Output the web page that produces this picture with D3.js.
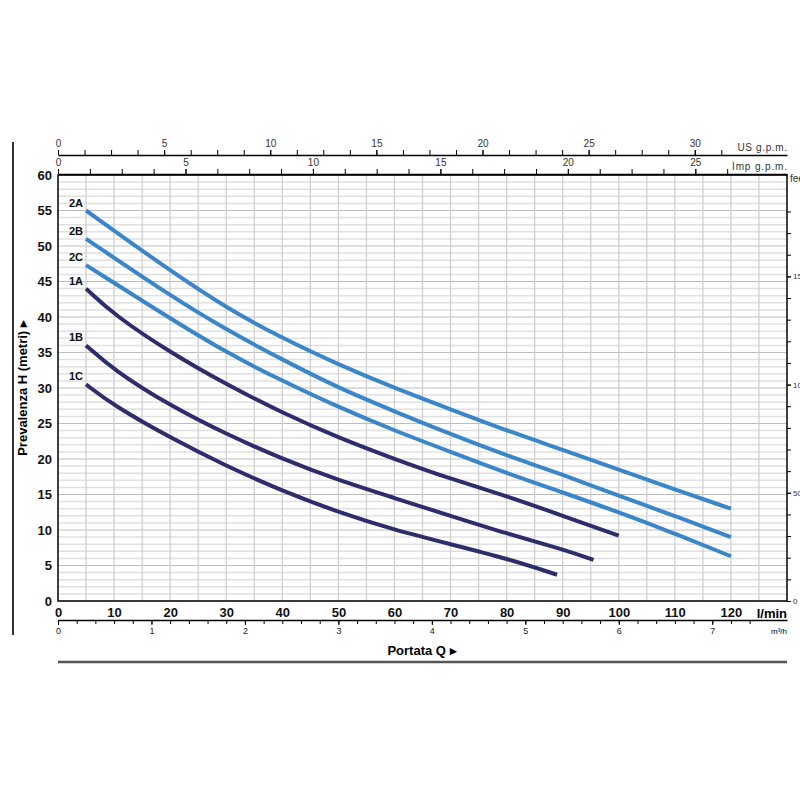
<!DOCTYPE html>
<html><head><meta charset="utf-8">
<script src="https://cdn.jsdelivr.net/npm/d3@7"></script>
<style>body{margin:0;background:#fff}text{font-family:"Liberation Sans Narrow","Liberation Sans",Arial,sans-serif}</style>
</head><body>
<svg id="c" width="800" height="800"></svg>
<script>
// flow in l/min, head in m
var names = ["2A","2B","2C","1A","1B","1C"];
var colors = ["#3a86c8","#3a86c8","#3a86c8","#2d2d6b","#2d2d6b","#2d2d6b"];
var q2 = [5,20,30,40,50,60,70,80,90,100,110,120];
var h2A = [55,46.5,41.3,37,33.3,30,27,24,21.3,18.5,15.7,13];
var h2B = [51,43,38.2,34,30,26.7,23.5,20.5,17.8,14.8,12,9];
var h2C = [47.3,39.8,35,31,27.3,24,21,18,15.3,12.5,9.5,6.3];
var q1A = [5,10,20,30,40,50,60,70,80,90,100];
var h1A = [44,40.3,35,30.5,26.5,23,20,17.2,14.8,12,9.2];
var q1B = [5,10,20,30,40,50,60,70,80,90,95.5];
var h1B = [36,32.5,27.5,23.5,20,17,14.5,12,9.5,7.3,5.8];
var q1C = [5,10,20,30,40,50,60,70,80,89];
var h1C = [30.5,27.5,23,19,15.5,12.5,10,8,6,3.7];
var xTicks = [0,10,20,30,40,50,60,70,80,90,100,110,120];
var yTicks = [0,5,10,15,20,25,30,35,40,45,50,55,60];

var series = [[q2,h2A],[q2,h2B],[q2,h2C],[q1A,h1A],[q1B,h1B],[q1C,h1C]];
var svg = d3.select("#c");
var x = d3.scaleLinear().domain([0,130]).range([58,787]);
var y = d3.scaleLinear().domain([0,60]).range([601,175]);

// grid
var g = svg.append("g");
g.selectAll(".hm").data(d3.range(0,61,1)).enter().append("line")
  .attr("x1",x(0)).attr("x2",x(130)).attr("y1",d=>y(d)).attr("y2",d=>y(d))
  .attr("stroke",d=>d%5==0?"#bdbdbd":"#e0e0e0").attr("stroke-width",d=>d%5==0?1:1.5);
g.selectAll(".v").data(d3.range(5,130,5)).enter().append("line")
  .attr("y1",y(0)).attr("y2",y(60)).attr("x1",d=>x(d)).attr("x2",d=>x(d))
  .attr("stroke","#cfcfcf").attr("stroke-width",1.3);
svg.append("rect").attr("x",x(0)).attr("y",y(60)).attr("width",x(130)-x(0)).attr("height",y(0)-y(60))
  .attr("fill","none").attr("stroke","#111").attr("stroke-width",1.6);

// main axes
svg.append("g").attr("transform","translate(0,"+(y(0)+3)+")")
  .call(d3.axisBottom(x).tickValues(xTicks).tickSize(0).tickPadding(4))
  .call(a=>{a.select(".domain").remove();a.selectAll("text").attr("font-size",13).attr("font-weight","bold").attr("fill","#111");});
svg.append("text").attr("x",787).attr("y",y(0)+17).attr("text-anchor","end").attr("font-size",13).attr("font-weight","bold").text("l/min");
svg.append("g").attr("transform","translate("+(x(0)-3)+",0)")
  .call(d3.axisLeft(y).tickValues(yTicks).tickSize(0).tickPadding(3))
  .call(a=>{a.select(".domain").remove();a.selectAll("text").attr("font-size",13).attr("font-weight","bold").attr("fill","#111");});

// m3/h axis
var xm = d3.scaleLinear().domain([0,130/16.667]).range([58,787]);
svg.append("g").attr("transform","translate(0,620)")
  .call(d3.axisBottom(xm).ticks(7).tickSize(5).tickSizeOuter(0).tickFormat(d3.format("d")))
  .call(a=>{a.selectAll("text").attr("font-size",9).attr("fill","#222");a.select(".domain").attr("stroke-width",1.5);});
svg.append("g").attr("transform","translate(0,620)")
  .call(d3.axisBottom(xm).tickValues(d3.range(0,7.6,0.2)).tickSize(4).tickFormat(""))
  .call(a=>a.select(".domain").remove());
svg.append("text").attr("x",787).attr("y",634).attr("text-anchor","end").attr("font-size",8).text("m³/h");

// top gpm axes
function gpm(ty, f, maxv, label){
  var s = d3.scaleLinear().domain([0,130/f]).range([58,787]);
  svg.append("g").attr("transform","translate(0,"+ty+")")
    .call(d3.axisTop(s).tickValues(d3.range(0,maxv+0.1,5)).tickSize(5).tickPadding(3).tickSizeOuter(0))
    .call(a=>{a.selectAll("text").attr("font-size",10).attr("fill","#333");a.select(".domain").attr("stroke-width",1.5);});
  svg.append("g").attr("transform","translate(0,"+ty+")")
    .call(d3.axisTop(s).tickValues(d3.range(0,maxv+1.3,1.25)).tickSize(5).tickFormat(""))
    .call(a=>a.select(".domain").remove());
  svg.append("text").attr("x",787).attr("y",ty-4).attr("text-anchor","end").attr("font-size",10).attr("fill","#333").attr("textLength",label.length*5.5).text(label);
}
gpm(155,3.785,30,"US g.p.m.");
gpm(174,4.546,25,"Imp g.p.m.");

// feet axis
var yf = d3.scaleLinear().domain([0,60/0.3048]).range([601,175]);
svg.append("g").attr("transform","translate(787,0)")
  .call(d3.axisRight(yf).tickValues([0,50,100,150]).tickSize(4).tickPadding(2))
  .call(a=>{a.select(".domain").remove();a.selectAll("text").attr("font-size",8).attr("fill","#333");});
svg.append("g").attr("transform","translate(787,0)")
  .call(d3.axisRight(yf).tickValues(d3.range(0,190,10)).tickSize(4).tickFormat(""))
  .call(a=>a.select(".domain").remove());
svg.append("text").attr("x",790).attr("y",182).attr("font-size",10).attr("fill","#333").text("feet");

// curves
var line = d3.line().x(d=>x(d[0])).y(d=>y(d[1])).curve(d3.curveBasis);
series.forEach(function(s,i){
  var pts = s[0].map((q,j)=>[q,s[1][j]]);
  svg.append("path").attr("d",line(pts)).attr("fill","none").attr("stroke",colors[i]).attr("stroke-width",4);
  svg.append("text").attr("x",x(s[0][0])-3).attr("y",y(s[1][0])-4).attr("text-anchor","end")
    .attr("font-size",11).attr("font-weight","bold").attr("fill","#111").text(names[i]);
});

// titles & frame lines
svg.append("text").attr("transform","translate(27,"+(y(30))+") rotate(-90)").attr("text-anchor","middle")
  .attr("font-size",13).attr("font-weight","bold").text("Prevalenza H  (metri) ▸");
svg.append("text").attr("x",422).attr("y",655).attr("text-anchor","middle").attr("font-size",13).attr("font-weight","bold").text("Portata Q ▸");
svg.append("line").attr("x1",13).attr("x2",13).attr("y1",142).attr("y2",635).attr("stroke","#333").attr("stroke-width",2);
svg.append("line").attr("x1",58).attr("x2",787).attr("y1",662).attr("y2",662).attr("stroke","#555").attr("stroke-width",2.5);
</script>
</body></html>
